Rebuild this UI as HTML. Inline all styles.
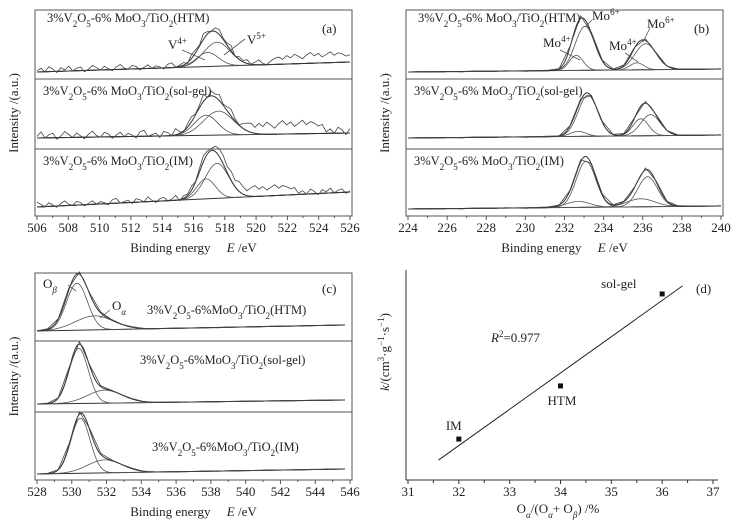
<!DOCTYPE html>
<html><head><meta charset="utf-8"><style>
html,body{margin:0;padding:0;background:#fff}
svg{display:block;font-family:"Liberation Serif","DejaVu Serif",serif}
svg text{font-family:"Liberation Serif","DejaVu Serif",serif;fill:#222}
</style></head><body>
<svg id="fig" width="742" height="527" viewBox="0 0 742 527" xmlns="http://www.w3.org/2000/svg"></svg>
<script>
// ---------- data ----------
// panel (a) V2p peaks: [HTM, sol-gel, IM]
const aCenters=[[516.9,517.5],[516.8,517.6],[516.8,517.5]];
const aHeights=[[14,24],[20,24],[20,35]];
const aWidths=[[0.7,0.85],[0.75,0.95],[0.6,0.75]];
// panel (b) Mo3d peaks
const bCenters=[[232.6,233.05,235.7,236.15],[232.7,233.2,235.9,236.4],[232.7,233.1,235.9,236.25]];
const bHeights=[[15,44,7,26],[5,41,17,21],[6,46,8,30]];
const bWidths=[[0.35,0.5,0.35,0.55],[0.4,0.5,0.4,0.5],[0.6,0.5,0.7,0.5]];
// panel (c) O1s peaks
const cCenters=[[530.3,531.3],[530.4,531.9],[530.5,531.9]];
const cHeights=[[47,14],[55,13],[55,13]];
const cWidths=[[0.6,1.1],[0.55,1.0],[0.55,1.0]];
// raw-data noise (a.u.)
const noiseA=[1,3,0,4,2,-1,3,1,4,0,2,3,-1,1,4,2,0,3,1,-1,2,4,1,0,3,2,-1,1,3,0,2,1,-1,3,4,0,1,2,-1,3,2,0,4,1,-1,2,3,0,1,4,-1,2,1,3,0,2,4,1,0,3,5,6,4,7,5,8,6,4,7,9,6,8,5,7,9,6,8,7,5,6];
const noiseSmall=[0,0.5,-0.4,0.3,0,-0.5,0.4,0.2,-0.3,0.5,0,-0.4,0.3,0.5,-0.2,0,0.4,-0.5,0.2,0,0.3,-0.3,0.5,0,-0.4,0.2,0.4,-0.2,0,0.3];
// panel (d)
const dX=[32,34,36];
const dK=[1.95,4.48,8.86];
const dLabels=["IM","HTM","sol-gel"];
const dXTicks=[31,32,33,34,35,36,37];

// ---------- helpers ----------
const svg=document.getElementById('fig');
const NS='http://www.w3.org/2000/svg';
function el(tag,attrs,parent){const e=document.createElementNS(NS,tag);for(const k in attrs)e.setAttribute(k,attrs[k]);(parent||svg).appendChild(e);return e;}
function gauss(x,c,h,s){return h*Math.exp(-(x-c)*(x-c)/(2*s*s));}
function lin(d0,d1,r0,r1){return v=>r0+(v-d0)/(d1-d0)*(r1-r0);}

function spectrum(g,xs,d0,d1,bl0,bl1,cs,hs,ws,noise,nscale){
  const N=300,bl=x=>bl0+(x-d0)/(d1-d0)*(bl1-bl0);
  const env=x=>{let s=0;for(let i=0;i<cs.length;i++)s+=gauss(x,cs[i],hs[i],ws[i]);return s;};
  let b=el('line',{x1:xs(d0),y1:bl0,x2:xs(d1),y2:bl1,stroke:'#333','stroke-width':1},g);
  
  
  for(let i=0;i<cs.length;i++){
    let p='';for(let k=0;k<=N;k++){const x=d0+(d1-d0)*k/N;p+=(k?'L':'M')+xs(x).toFixed(1)+','+(bl(x)-gauss(x,cs[i],hs[i],ws[i])).toFixed(1);}
    const c=el('path',{d:p,fill:'none',stroke:'#555','stroke-width':0.8},g);
    
    
  }
  let p='';for(let k=0;k<=N;k++){const x=d0+(d1-d0)*k/N;p+=(k?'L':'M')+xs(x).toFixed(1)+','+(bl(x)-env(x)).toFixed(1);}
  const e=el('path',{d:p,fill:'none',stroke:'#333','stroke-width':1},g);
  
  
  const M=noise.length;p='';
  for(let k=0;k<M;k++){const x=d0+(d1-d0)*k/(M-1);p+=(k?'L':'M')+xs(x).toFixed(1)+','+(bl(x)-env(x)*1.04-noise[k]*nscale).toFixed(1);}
  const r=el('path',{d:p,fill:'none',stroke:'#444','stroke-width':0.8},g);
  
  
}
function txt(g,x,y,html,size,anchor,name){
  const t=el('text',{x:x,y:y,'font-size':size||13,'text-anchor':anchor||'start'},g);
  t.innerHTML=html;
  
  
  return t;
}
const sub=s=>'<tspan baseline-shift="sub" font-size="9">'+s+'</tspan>';
const sup=s=>'<tspan baseline-shift="super" font-size="9">'+s+'</tspan>';

function xpsPanel(name,L,R,T,B,divs,d0,d1,ticks,ytitleX){
  const g=el('g',{});
  
  
  el('rect',{x:L,y:T,width:R-L,height:B-T,fill:'none',stroke:'#555','stroke-width':1},g);
  divs.forEach(y=>el('line',{x1:L,y1:y,x2:R,y2:y,stroke:'#555','stroke-width':1},g));
  const xs=lin(d0,d1,L+2,R-2);
  ticks.forEach(v=>{
    el('line',{x1:xs(v),y1:B,x2:xs(v),y2:B+4,stroke:'#555'},g);
    txt(g,xs(v),B+16,String(v),13,'middle','x-tick-label');
  });
  for(let i=0;i<ticks.length-1;i++){const m=(ticks[i]+ticks[i+1])/2;el('line',{x1:xs(m),y1:B,x2:xs(m),y2:B+2,stroke:'#555'},g);}
  txt(g,(L+R)/2,B+36,'Binding energy &#160;&#160;&#160; <tspan font-style="italic">E</tspan> /eV',13,'middle','x-axis-title');
  const yt=txt(g,ytitleX,(T+B)/2,'Intensity /(a.u.)',13,'middle','y-axis-title');
  yt.setAttribute('transform','rotate(-90 '+ytitleX+' '+(T+B)/2+')');
  return {g,xs};
}
const LS=12.5;

// ---------- panel (a) ----------
let P=xpsPanel('panel-a',35,352,10,216,[79,149],506,526,[506,508,510,512,514,516,518,520,522,524,526],18);
const aBase=[[72,62],[138,133],[207,192]];
for(let i=0;i<3;i++)spectrum(P.g,P.xs,506,526,aBase[i][0],aBase[i][1],aCenters[i],aHeights[i],aWidths[i],noiseA.map((v,k)=>noiseA[(k+i*7)%noiseA.length]),i==1?1.5:1.2);
txt(P.g,47,22,'3%V'+sub('2')+'O'+sub('5')+'-6% MoO'+sub('3')+'/TiO'+sub('2')+'(HTM)',LS,'start','series-label-htm');
txt(P.g,43,95,'3%V'+sub('2')+'O'+sub('5')+'-6% MoO'+sub('3')+'/TiO'+sub('2')+'(sol-gel)',LS,'start','series-label-solgel');
txt(P.g,43,165,'3%V'+sub('2')+'O'+sub('5')+'-6% MoO'+sub('3')+'/TiO'+sub('2')+'(IM)',LS,'start','series-label-im');
txt(P.g,322,33,'(a)',13,'start','panel-label');
txt(P.g,168,49,'V'+sup('4+'),13,'start','peak-label-v4');
txt(P.g,247,44,'V'+sup('5+'),13,'start','peak-label-v5');
el('line',{x1:182,y1:50,x2:205,y2:60,stroke:'#555','stroke-width':0.8},P.g);
el('line',{x1:245,y1:39,x2:224,y2:55,stroke:'#555','stroke-width':0.8},P.g);

// ---------- panel (b) ----------
P=xpsPanel('panel-b',406,723,10,216,[79,149],224,240,[224,226,228,230,232,234,236,238,240],389);
const bBase=[[72,69],[138,135],[209,206]];
for(let i=0;i<3;i++)spectrum(P.g,P.xs,224,240,bBase[i][0],bBase[i][1],bCenters[i],bHeights[i],bWidths[i],noiseSmall,1);
txt(P.g,418,22,'3%V'+sub('2')+'O'+sub('5')+'-6% MoO'+sub('3')+'/TiO'+sub('2')+'(HTM)',LS,'start','series-label-htm');
txt(P.g,414,95,'3%V'+sub('2')+'O'+sub('5')+'-6% MoO'+sub('3')+'/TiO'+sub('2')+'(sol-gel)',LS,'start','series-label-solgel');
txt(P.g,414,165,'3%V'+sub('2')+'O'+sub('5')+'-6% MoO'+sub('3')+'/TiO'+sub('2')+'(IM)',LS,'start','series-label-im');
txt(P.g,694,33,'(b)',13,'start','panel-label');
txt(P.g,543,47,'Mo'+sup('4+'),13,'start','peak-label-mo4');
txt(P.g,592,20,'Mo'+sup('6+'),13,'start','peak-label-mo6');
txt(P.g,609,50,'Mo'+sup('4+'),13,'start','peak-label-mo4b');
txt(P.g,647,28,'Mo'+sup('6+'),13,'start','peak-label-mo6b');
el('line',{x1:560,y1:50,x2:580,y2:60,stroke:'#555','stroke-width':0.8},P.g);
el('line',{x1:592,y1:20,x2:585,y2:27,stroke:'#555','stroke-width':0.8},P.g);
el('line',{x1:625,y1:53,x2:638,y2:62,stroke:'#555','stroke-width':0.8},P.g);
el('line',{x1:650,y1:28,x2:643,y2:42,stroke:'#555','stroke-width':0.8},P.g);

// ---------- panel (c) ----------
P=xpsPanel('panel-c',35,352,273,480,[341,412],528,546,[528,530,532,534,536,538,540,542,544,546],18);
const cBase=[[331,325],[404,400],[474,469]];
for(let i=0;i<3;i++)spectrum(P.g,P.xs,528,545.7,cBase[i][0],cBase[i][1],cCenters[i],cHeights[i],cWidths[i],noiseSmall,0.6);
txt(P.g,147,314,'3%V'+sub('2')+'O'+sub('5')+'-6%MoO'+sub('3')+'/TiO'+sub('2')+'(HTM)',LS,'start','series-label-htm');
txt(P.g,140,364,'3%V'+sub('2')+'O'+sub('5')+'-6%MoO'+sub('3')+'/TiO'+sub('2')+'(sol-gel)',LS,'start','series-label-solgel');
txt(P.g,152,451,'3%V'+sub('2')+'O'+sub('5')+'-6%MoO'+sub('3')+'/TiO'+sub('2')+'(IM)',LS,'start','series-label-im');
txt(P.g,322,293,'(c)',13,'start','panel-label');
txt(P.g,43,288,'O'+sub('<tspan font-style="italic">β</tspan>'),13,'start','peak-label-obeta');
txt(P.g,112,310,'O'+sub('<tspan font-style="italic">α</tspan>'),13,'start','peak-label-oalpha');
el('line',{x1:68,y1:285,x2:76,y2:291,stroke:'#555','stroke-width':0.8},P.g);
el('line',{x1:110,y1:310,x2:100,y2:318,stroke:'#555','stroke-width':0.8},P.g);

// ---------- panel (d) ----------
const gd=el('g',{});


const dL=406,dB=480,dT=270;
const xd=lin(31,37,408,713), yd=lin(0,10,480,270);
el('line',{x1:dL,y1:dT,x2:dL,y2:dB,stroke:'#333'},gd);
el('line',{x1:dL,y1:dB,x2:718,y2:dB,stroke:'#333'},gd);
dXTicks.forEach(v=>{
  el('line',{x1:xd(v),y1:dB,x2:xd(v),y2:dB+4,stroke:'#333'},gd);
  txt(gd,xd(v),dB+16,String(v),13,'middle','x-tick-label');
});
for(let i=0;i<dXTicks.length-1;i++){const m=(dXTicks[i]+dXTicks[i+1])/2;el('line',{x1:xd(m),y1:dB,x2:xd(m),y2:dB+3,stroke:'#333'},gd);}
// regression
const mx=dX.reduce((a,b)=>a+b)/dX.length,my=dK.reduce((a,b)=>a+b)/dK.length;
let sxy=0,sxx=0;for(let i=0;i<dX.length;i++){sxy+=(dX[i]-mx)*(dK[i]-my);sxx+=(dX[i]-mx)**2;}
const slope=sxy/sxx,icpt=my-slope*mx;
const fl=el('line',{x1:xd(31.6),y1:yd(icpt+slope*31.6),x2:xd(36.4),y2:yd(icpt+slope*36.4),stroke:'#222','stroke-width':1},gd);


const lblOff=[[-13,-9],[-13,19],[-61,-6]];
for(let i=0;i<dX.length;i++){
  const r=el('rect',{x:xd(dX[i])-2.5,y:yd(dK[i])-2.5,width:5,height:5,fill:'#111'},gd);
  
  
  txt(gd,xd(dX[i])+lblOff[i][0],yd(dK[i])+lblOff[i][1],dLabels[i],13,'start','point-label');
}
txt(gd,491,342,'<tspan font-style="italic">R</tspan>'+sup('2')+'=0.977',13,'start','r-squared');
txt(gd,696,293,'(d)',13,'start','panel-label');
txt(gd,558,513,'O'+sub('<tspan font-style="italic">α</tspan>')+'/(O'+sub('<tspan font-style="italic">α</tspan>')+'+ O'+sub('<tspan font-style="italic">β</tspan>')+') /%',13,'middle','x-axis-title');
const ytd=txt(gd,389,352,'<tspan font-style="italic">k</tspan>/(cm'+sup('3')+'·g'+sup('−1')+'·s'+sup('−1')+')',13,'middle','y-axis-title');
ytd.setAttribute('transform','rotate(-90 389 352)');
</script>
</body></html>
